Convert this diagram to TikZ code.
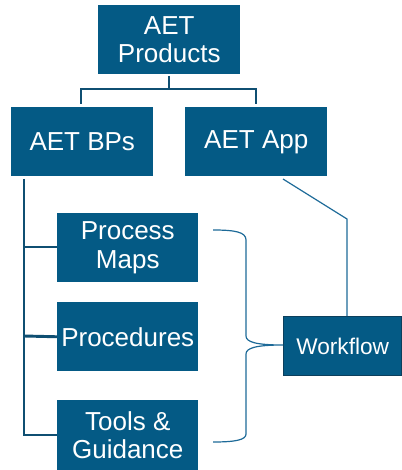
\documentclass[tikz,border=0pt]{standalone}
\usepackage{fontspec}
\setmainfont{Liberation Sans}
\definecolor{boxfill}{HTML}{045A85}
\definecolor{conn}{HTML}{0F4F72}
\definecolor{thinline}{HTML}{1D6A98}
\definecolor{wfborder}{HTML}{0C3F5C}
\begin{document}
\begin{tikzpicture}[x=0.75pt,y=-0.75pt,
  box/.style={fill=boxfill,draw=none,text=white,align=center,inner sep=0pt,
    font=\fontsize{19.5}{21.5}\selectfont},
  tree/.style={draw=conn,line width=2.2pt},
  thin/.style={draw=thinline,line width=0.9pt}]
\useasboundingbox (0,0) rectangle (402,470);
\node[box,minimum width=106.5pt,minimum height=51.75pt,anchor=north west] (prod) at (98,5) {AET\\Products};
\node[box,minimum width=106.5pt,minimum height=51.75pt,anchor=north west] (bps) at (11,107) {AET BPs};
\node[box,minimum width=106.5pt,minimum height=51.75pt,anchor=north west] (app) at (185,107) {AET App};
\node[box,minimum width=105.75pt,minimum height=51.75pt,anchor=north west] (pm) at (57,213) {Process\\Maps};
\node[box,minimum width=105.75pt,minimum height=51.75pt,anchor=north west] (proc) at (57,302) {Procedures};
\node[box,minimum width=105.75pt,minimum height=52.5pt,anchor=north west] (tg) at (57,400) {Tools \&\\Guidance};
\node[box,draw=wfborder,line width=1pt,minimum width=88.5pt,minimum height=44.25pt,anchor=north west,
  font=\fontsize{17}{19}\selectfont] (wf) at (283,316) {Workflow};
% top tree
\coordinate (j1) at (169,89);
\draw[tree] (169,76) -- (j1);
\draw[tree] (81,104) -- (81,89) -- (256,89) -- (256,104);
% BPs trunk
\coordinate (t0) at (24,179);
\draw[tree] (t0) -- (24,435) -- (tg.west |- 0,435);
\draw[tree] (24,247) -- (pm.west |- 0,247);
\draw[tree] (24,336) -- (proc.west);
% app to workflow
\coordinate (a1) at (283,179);
\coordinate (a2) at (347,219);
\draw[thin] (a1) -- (a2) -- (347,316);
% brace
\coordinate (b1) at (213,230);
\coordinate (b2) at (213,442);
\draw[thin] (b1) .. controls (235,230) and (246,232) .. (246,240) -- (246,336)
  .. controls (246,342) and (256,345) .. (wf.west |- 0,345)
  (wf.west |- 0,345) .. controls (256,345) and (246,348) .. (246,354) -- (246,434)
  .. controls (246,440) and (235,442) .. (b2);
\end{tikzpicture}
\end{document}
